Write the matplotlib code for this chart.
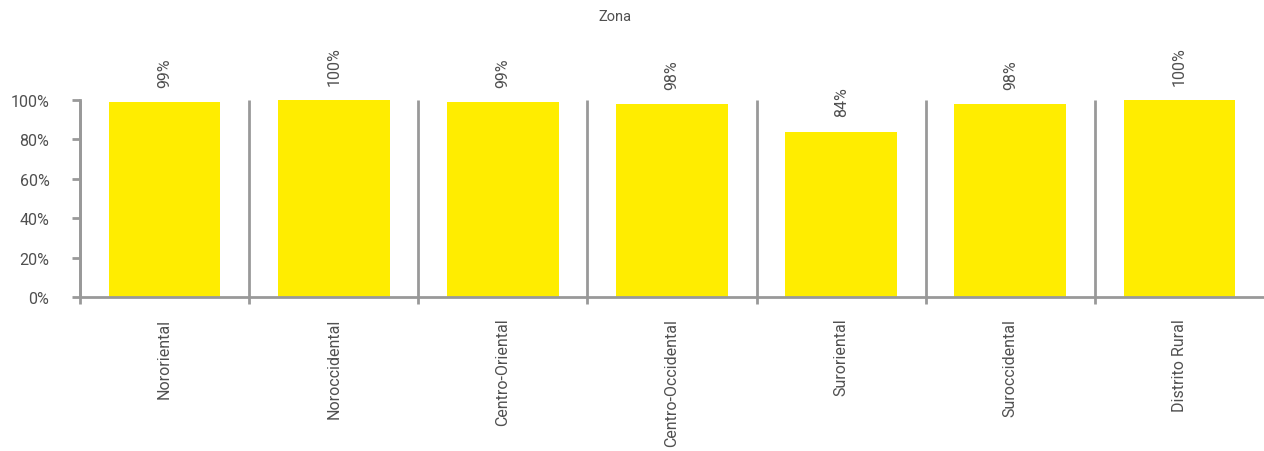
import matplotlib.pyplot as plt
from matplotlib.ticker import PercentFormatter

zonas = ["Nororiental", "Noroccidental", "Centro-Oriental", "Centro-Occidental",
         "Suroriental", "Suroccidental", "Distrito Rural"]
valores = [0.99, 1.00, 0.99, 0.98, 0.84, 0.98, 1.00]
etiquetas = ["99%", "100%", "99%", "98%", "84%", "98%", "100%"]

amarillo = "#FFED00"
gris = "#999999"
texto = "#505050"

plt.rcParams["font.family"] = ["Roboto", "DejaVu Sans"]

W, H = 1264, 452
fig = plt.figure(figsize=(W / 100, H / 100), dpi=100)
ax = fig.add_axes([80 / W, 154 / H, (1264 - 80) / W, 197 / H])

x = list(range(len(zonas)))
ax.bar(x, valores, width=0.66, color=amarillo, zorder=2)

ax.set_xlim(-0.5, len(zonas) - 0.5)
ax.set_ylim(0, 1)

for s in ["top", "right"]:
    ax.spines[s].set_visible(False)
for s in ["left", "bottom"]:
    ax.spines[s].set_color(gris)
    ax.spines[s].set_linewidth(2)
ax.spines["bottom"].set_zorder(3)

# separadores entre zonas
for i in range(len(zonas)):
    ax.plot([i - 0.5, i - 0.5], [-0.035, 1.0], color=gris, lw=2,
            clip_on=False, zorder=3, solid_capstyle="butt")

ax.yaxis.set_major_formatter(PercentFormatter(1.0, decimals=0))
ax.set_yticks([0, 0.2, 0.4, 0.6, 0.8, 1.0])
ax.tick_params(axis="y", colors=gris, length=6, width=2, pad=16,
               labelsize=11.5, labelcolor=texto)

ax.set_xticks(x)
ax.set_xticklabels(zonas, rotation=90, va="top", ha="center")
ax.tick_params(axis="x", length=0, pad=15, labelsize=11.5, labelcolor=texto)

for xi, v, et in zip(x, valores, etiquetas):
    ax.annotate(et, (xi, v), xytext=(0, 11), textcoords="offset points",
                rotation=90, ha="center", va="bottom", fontsize=11.5, color=texto)

fig.text(615 / W, 1 - 17 / H, "Zona", ha="center", va="center",
         fontsize=10.5, color=texto)

fig.savefig("out.png", dpi=100)
